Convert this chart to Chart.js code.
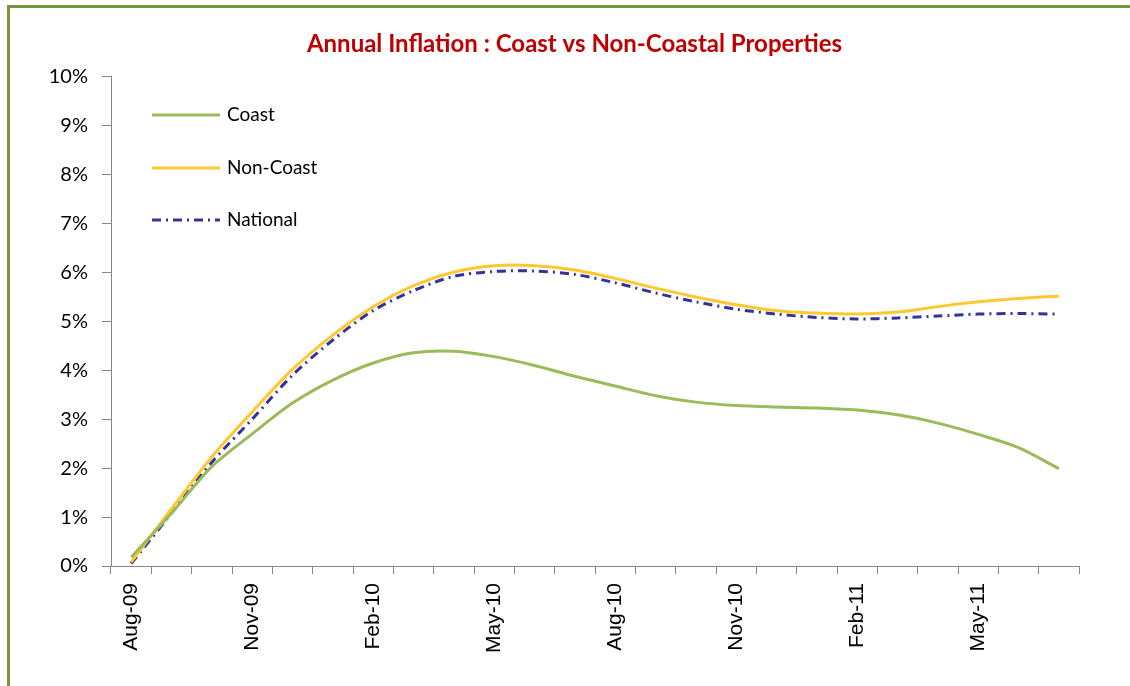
<!DOCTYPE html>
<html>
<head>
<meta charset="utf-8">
<script src="https://cdn.jsdelivr.net/npm/chart.js@4/dist/chart.umd.min.js"></script>
<style>
  html, body { margin: 0; padding: 0; background: #fff; }
  #wrap { position: relative; width: 1130px; height: 686px; overflow: hidden; }
  #frame {
    position: absolute; left: 7px; top: 5px; width: 1200px; height: 679px;
    border-left: 3px solid #77933C; border-top: 3px solid #77933C;
    border-bottom: 1px solid #C3D69B; pointer-events: none;
  }
  canvas { position: absolute; left: 0; top: 0; }
</style>
</head>
<body>
<div id="wrap">
  <canvas id="chart" width="1130" height="686"></canvas>
  <div id="frame"></div>
</div>
<script>
// months Aug-09 .. Jul-11, only every third one gets a label
const months = ['Aug-09', 'Sep-09', 'Oct-09', 'Nov-09', 'Dec-09', 'Jan-10', 'Feb-10', 'Mar-10',
    'Apr-10', 'May-10', 'Jun-10', 'Jul-10', 'Aug-10', 'Sep-10', 'Oct-10', 'Nov-10',
    'Dec-10', 'Jan-11', 'Feb-11', 'Mar-11', 'Apr-11', 'May-11', 'Jun-11', 'Jul-11'];

const coast = [0.18, 1.08, 2.03, 2.70, 3.33, 3.80, 4.15, 4.36, 4.39, 4.28, 4.10, 3.88,
    3.68, 3.48, 3.35, 3.28, 3.25, 3.23, 3.19, 3.09, 2.92, 2.69, 2.42, 1.99];
const nonCoast = [0.08, 1.17, 2.23, 3.15, 4.02, 4.72, 5.30, 5.73, 6.01, 6.14, 6.14, 6.05,
    5.88, 5.68, 5.50, 5.34, 5.22, 5.17, 5.15, 5.19, 5.30, 5.40, 5.47, 5.52];
const national = [0.05, 1.08, 2.12, 3.00, 3.90, 4.62, 5.22, 5.63, 5.92, 6.02, 6.03, 5.96,
    5.79, 5.58, 5.40, 5.25, 5.15, 5.08, 5.05, 5.07, 5.11, 5.15, 5.16, 5.15];

const yTicks = [0, 1, 2, 3, 4, 5, 6, 7, 8, 9, 10];

const axisColor = '#868686';

// legend drawn inside the plot area, Excel style
const insideLegend = {
    id: 'insideLegend',
    afterDraw(chart) {
        const ctx = chart.ctx;
        const rows = [115, 168, 220];
        ctx.save();
        chart.data.datasets.forEach((ds, i) => {
            const y = rows[i];
            ctx.beginPath();
            ctx.strokeStyle = ds.borderColor;
            ctx.lineWidth = 3;
            ctx.setLineDash(ds.borderDash || []);
            ctx.moveTo(152, y);
            ctx.lineTo(220, y);
            ctx.stroke();
            ctx.setLineDash([]);
            ctx.fillStyle = '#000';
            ctx.font = '19px Lato';
            ctx.textBaseline = 'middle';
            ctx.fillText(ds.label, 227, y);
        });
        ctx.restore();
    }
};

new Chart(document.getElementById('chart'), {
    type: 'line',
    data: {
        labels: months,
        datasets: [
            {
                label: 'Coast',
                data: coast,
                borderColor: '#9BBB59',
                borderWidth: 3,
                pointRadius: 0,
                tension: 0.3,
                fill: false
            },
            {
                label: 'Non-Coast',
                data: nonCoast,
                borderColor: '#FFC82E',
                borderWidth: 3,
                pointRadius: 0,
                tension: 0.3,
                fill: false
            },
            {
                label: 'National',
                data: national,
                borderColor: '#333399',
                borderWidth: 3,
                borderDash: [9, 5, 2, 5],
                pointRadius: 0,
                tension: 0.3,
                fill: false
            }
        ]
    },
    options: {
        responsive: false,
        animation: false,
        // title is centred on the page; an empty right axis leaves the gap on the right
        layout: { padding: { left: 35, right: 16, top: 0, bottom: 0 } },
        plugins: {
            legend: { display: false },
            tooltip: { enabled: false },
            title: {
                display: true,
                text: 'Annual Inflation : Coast vs Non-Coastal Properties',
                color: '#C00000',
                font: { family: 'Lato', size: 24, weight: 'bold' },
                padding: { top: 30, bottom: 18 }
            }
        },
        scales: {
            x: {
                offset: true,
                grid: {
                    offset: true,
                    drawOnChartArea: false,
                    drawTicks: true,
                    tickLength: 8,
                    color: axisColor
                },
                border: { display: true, color: axisColor, width: 1 },
                ticks: {
                    autoSkip: false,
                    maxRotation: 90,
                    minRotation: 90,
                    padding: 9,
                    color: '#000',
                    font: { family: 'Liberation Sans', size: 21 },
                    callback: function (value, index) {
                        return index % 3 === 0 ? months[index] : '';
                    }
                },
                afterFit: function (scale) { scale.height = 120; }
            },
            y: {
                min: 0,
                max: 10,
                afterBuildTicks: function (scale) {
                    scale.ticks = yTicks.map(v => ({ value: v }));
                },
                grid: {
                    drawOnChartArea: false,
                    drawTicks: true,
                    tickLength: 9,
                    color: axisColor
                },
                border: { display: true, color: axisColor, width: 1 },
                ticks: {
                    padding: 14,
                    color: '#000',
                    font: { family: 'Lato', size: 20 },
                    callback: function (value) { return value + '%'; }
                },
                afterFit: function (scale) { scale.width = 76; }
            },
            spacer: {
                position: 'right',
                min: 0,
                max: 10,
                grid: { display: false },
                border: { display: false },
                ticks: { display: false },
                afterFit: function (scale) { scale.width = 35; }
            }
        }
    },
    plugins: [insideLegend]
});
</script>
</body>
</html>
